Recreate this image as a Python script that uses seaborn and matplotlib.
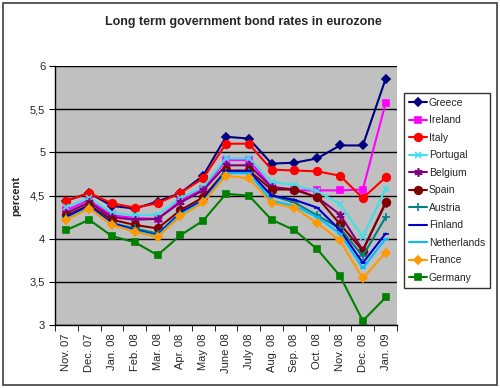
import matplotlib
matplotlib.use('Agg')
import matplotlib.pyplot as plt
import seaborn as sns
import pandas as pd
from matplotlib.patches import Rectangle
from matplotlib.ticker import FixedLocator

# Data
months = ['Nov. 07', 'Dec. 07', 'Jan. 08', 'Feb. 08', 'Mar. 08', 'Apr. 08', 'May 08',
          'June 08', 'July 08', 'Aug. 08', 'Sep. 08', 'Oct. 08', 'Nov. 08', 'Dec. 08', 'Jan. 09']
greece = [4.44, 4.53, 4.38, 4.35, 4.43, 4.53, 4.73, 5.18, 5.16, 4.87, 4.88, 4.93, 5.08, 5.08, 5.85]
ireland = [4.33, 4.45, 4.27, 4.24, 4.23, 4.44, 4.58, 4.91, 4.91, 4.60, 4.56, 4.56, 4.56, 4.57, 5.57]
italy = [4.44, 4.53, 4.41, 4.36, 4.41, 4.53, 4.70, 5.10, 5.10, 4.80, 4.79, 4.78, 4.73, 4.47, 4.71]
portugal = [4.37, 4.47, 4.30, 4.27, 4.28, 4.47, 4.60, 4.93, 4.93, 4.66, 4.62, 4.55, 4.40, 4.02, 4.58]
belgium = [4.30, 4.42, 4.25, 4.22, 4.23, 4.42, 4.56, 4.85, 4.85, 4.60, 4.57, 4.48, 4.28, 3.87, 4.41]
spain = [4.27, 4.39, 4.22, 4.16, 4.12, 4.33, 4.48, 4.79, 4.79, 4.57, 4.57, 4.48, 4.17, 3.86, 4.42]
austria = [4.25, 4.37, 4.18, 4.12, 4.06, 4.30, 4.44, 4.77, 4.77, 4.50, 4.42, 4.27, 4.12, 3.80, 4.25]
finland = [4.25, 4.38, 4.18, 4.10, 4.04, 4.30, 4.45, 4.78, 4.78, 4.50, 4.45, 4.36, 4.10, 3.72, 4.06]
netherlands = [4.23, 4.36, 4.16, 4.09, 4.03, 4.28, 4.43, 4.76, 4.76, 4.44, 4.38, 4.25, 4.06, 3.66, 4.00]
france = [4.22, 4.35, 4.16, 4.08, 4.02, 4.26, 4.42, 4.73, 4.70, 4.41, 4.36, 4.18, 3.98, 3.54, 3.84]
germany = [4.10, 4.22, 4.03, 3.96, 3.81, 4.04, 4.21, 4.52, 4.50, 4.22, 4.10, 3.88, 3.57, 3.05, 3.32]

countries = ['Greece', 'Ireland', 'Italy', 'Portugal', 'Belgium', 'Spain',
             'Austria', 'Finland', 'Netherlands', 'France', 'Germany']
series = [greece, ireland, italy, portugal, belgium, spain,
          austria, finland, netherlands, france, germany]

colors = {'Greece': '#000080', 'Ireland': '#FF00FF', 'Italy': '#FF0000',
          'Portugal': '#40E0E8', 'Belgium': '#800080', 'Spain': '#800000',
          'Austria': '#008080', 'Finland': '#0000CC', 'Netherlands': '#00BFFF',
          'France': '#FF9900', 'Germany': '#008000'}
markers = {'Greece': 'D', 'Ireland': 's', 'Italy': 'o', 'Portugal': 'x',
           'Belgium': (6, 2, 0), 'Spain': 'o', 'Austria': '+', 'Finland': '_',
           'Netherlands': '_', 'France': 'D', 'Germany': 's'}
msizes = {'Greece': 4.5, 'Ireland': 5, 'Italy': 5.5, 'Portugal': 5, 'Belgium': 6,
          'Spain': 5.5, 'Austria': 6, 'Finland': 5, 'Netherlands': 5,
          'France': 4.5, 'Germany': 5}

sns.set_style('white')
plt.rcParams['font.family'] = ['Liberation Sans', 'DejaVu Sans']

fig = plt.figure(figsize=(5.0, 3.88), dpi=100)
ax = fig.add_axes([0.11, 0.162, 0.684, 0.668])
ax.set_facecolor('#C0C0C0')

x = list(range(len(months)))
for name, vals in zip(countries, series):
    sns.lineplot(x=x, y=vals, color=colors[name], marker=markers[name],
                 linewidth=1.5, markersize=msizes[name], markeredgewidth=1.2,
                 markeredgecolor=colors[name], label=name, ax=ax)

ax.set_xlim(-0.5, len(months) - 0.5)
ax.set_ylim(3, 6)
ax.set_yticks([3, 3.5, 4, 4.5, 5, 5.5, 6])
ax.set_yticklabels(['3', '3,5', '4', '4,5', '5', '5,5', '6'], fontsize=8)
ax.grid(axis='y', color='black', linewidth=1)
ax.set_axisbelow(True)

ax.set_xticks(x)
ax.set_xticklabels(months, rotation=90, fontsize=8)
ax.xaxis.set_minor_locator(FixedLocator([i - 0.5 for i in range(len(months) + 1)]))
ax.tick_params(axis='x', which='major', length=0, pad=6)
ax.tick_params(axis='x', which='minor', length=4, direction='out', bottom=True, color='black')
ax.tick_params(axis='y', length=4, direction='out', left=True, color='black', pad=3)

for s in ['top', 'right']:
    ax.spines[s].set_visible(False)
for s in ['left', 'bottom']:
    ax.spines[s].set_color('black')
    ax.spines[s].set_linewidth(1)

ax.set_xlabel('')
ax.set_ylabel('percent', fontsize=8, fontweight='bold', labelpad=6)

handles, labels = ax.get_legend_handles_labels()
leg = ax.legend(handles, labels, loc='upper left', bbox_to_anchor=(1.02, 0.895),
                frameon=True, fancybox=False, fontsize=7.5, handlelength=1.8,
                handletextpad=0.15, labelspacing=0.72, borderpad=0.45,
                borderaxespad=0)
leg.get_frame().set_edgecolor('black')
leg.get_frame().set_linewidth(1)

fig.text(0.486, 0.943, 'Long term government bond rates in eurozone',
         ha='center', va='center', fontsize=9, fontweight='bold')

fig.patches.append(Rectangle((0.006, 0.008), 0.988, 0.984, transform=fig.transFigure,
                             fill=False, edgecolor='#404040', linewidth=1.2))

fig.savefig('out.png', dpi=100)
